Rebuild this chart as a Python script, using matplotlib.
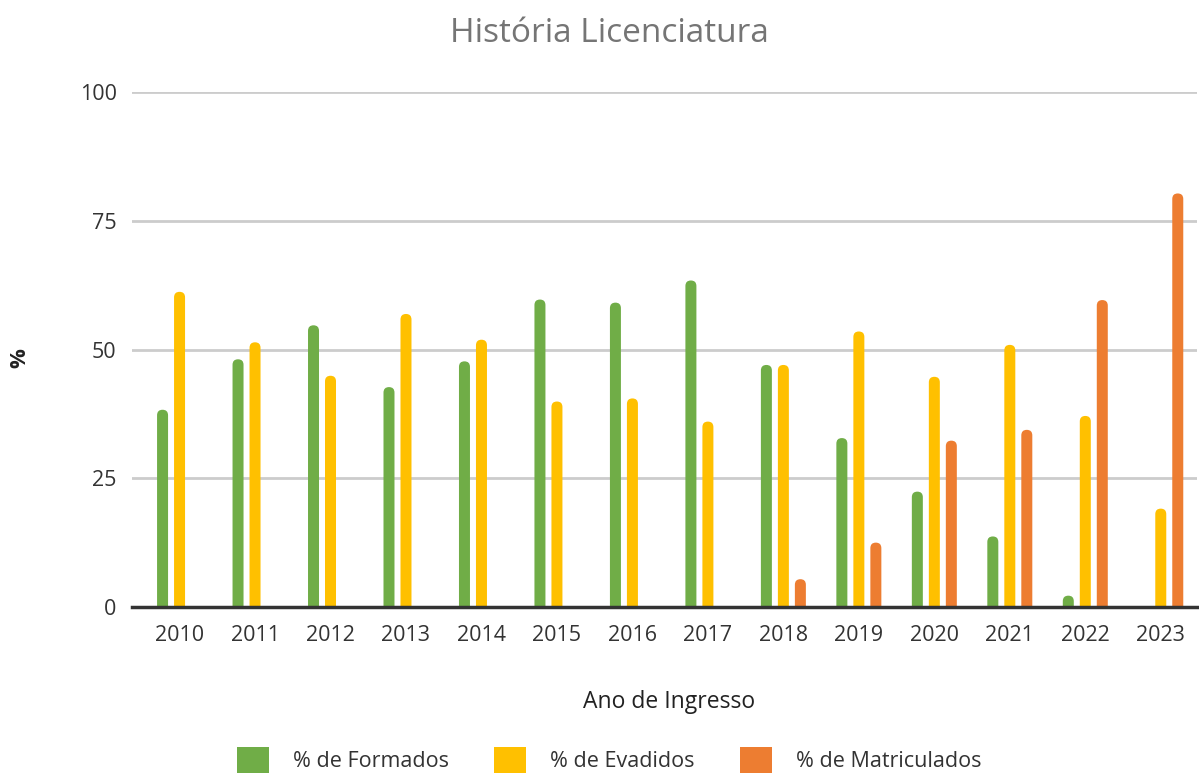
import numpy as np
import matplotlib
matplotlib.use("Agg")
import matplotlib.pyplot as plt
from matplotlib.patches import FancyBboxPatch, Patch

plt.rcParams['font.family'] = ['Open Sans', 'DejaVu Sans']

# data
anos = ['2010', '2011', '2012', '2013', '2014', '2015', '2016',
        '2017', '2018', '2019', '2020', '2021', '2022', '2023']
formados = [38.3, 48.1, 54.7, 42.7, 47.7, 59.7, 59.1,
            63.4, 47.0, 32.8, 22.4, 13.7, 2.2, 0]
evadidos = [61.2, 51.4, 44.9, 56.9, 51.9, 39.9, 40.5,
            36.0, 47.0, 53.5, 44.7, 50.9, 37.1, 19.1]
matriculados = [0, 0, 0, 0, 0, 0, 0,
                0, 5.4, 12.5, 32.3, 34.4, 59.6, 80.3]

series = [('% de Formados', formados, '#70AD47'),
          ('% de Evadidos', evadidos, '#FFC000'),
          ('% de Matriculados', matriculados, '#ED7D31')]

fig = plt.figure(figsize=(11.99, 7.74), dpi=100)
ax = fig.add_axes([132 / 1199, 1 - 607 / 774, (1197 - 132) / 1199, (607 - 92) / 774])

x = np.arange(len(anos))
offset = 17 / 75.5  # bar spacing in category units
width = 11 / 75.5
xmin, xmax = -0.63, 13.48
ax.set_xlim(xmin, xmax)
ax.set_ylim(0, 100)

# aspect between y units and x units (per pixel), for rounded tops
ax_w_px = 1197 - 132
ax_h_px = 607 - 92
asp = (100 / ax_h_px) / ((xmax - xmin) / ax_w_px)
r = width / 2

for i, (name, vals, color) in enumerate(series):
    bars = ax.bar(x + (i - 1) * offset, vals, width=width, color=color)
    for rect in bars:
        h = rect.get_height()
        bx = rect.get_x()
        rect.remove()
        if h <= 0:
            continue
        # rounded top, bottom corners hidden below the axis
        ax.add_patch(FancyBboxPatch((bx, -2), width, h + 2,
                                    boxstyle=f"round,pad=0,rounding_size={r}",
                                    mutation_aspect=asp, facecolor=color,
                                    edgecolor='none', zorder=3))

ax.set_yticks([0, 25, 50, 75, 100])
ax.yaxis.grid(True, color='#CCCCCC', linewidth=2)
ax.set_axisbelow(True)
ax.set_xticks(x)
ax.set_xticklabels(anos)
ax.tick_params(axis='both', length=0, labelsize=15.5, colors='#333333')
ax.tick_params(axis='x', pad=13)
ax.tick_params(axis='y', pad=11)
for s in ['top', 'right', 'left']:
    ax.spines[s].set_visible(False)
ax.spines['bottom'].set_color('#333333')
ax.spines['bottom'].set_linewidth(2.5)
ax.spines['bottom'].set_zorder(4)

fig.suptitle('História Licenciatura', fontsize=24, color='#757575',
             x=609 / 1199, y=1 - 42 / 774, va='baseline')

ax.set_xlabel('Ano de Ingresso', fontsize=16.5, color='#222222')
ax.xaxis.label.set_va('baseline')
ax.xaxis.set_label_coords((669 - 132) / 1065, (607 - 708) / 515)
ax.set_ylabel('%', fontsize=16, color='#222222', fontweight='bold')
ax.yaxis.label.set_va('center')
ax.yaxis.set_label_coords((20 - 132) / 1065, (607 - 358) / 515)

handles = [Patch(facecolor=c, edgecolor='none', label=n) for n, _, c in series]
fig.legend(handles=handles, loc='center', ncol=3, frameon=False,
           fontsize=15.5, handlelength=1.5, handleheight=1.45, handletextpad=1.1,
           columnspacing=2.1, bbox_to_anchor=(609 / 1199, 1 - 760 / 774),
           labelcolor='#333333')

fig.savefig('out.png', dpi=100)
